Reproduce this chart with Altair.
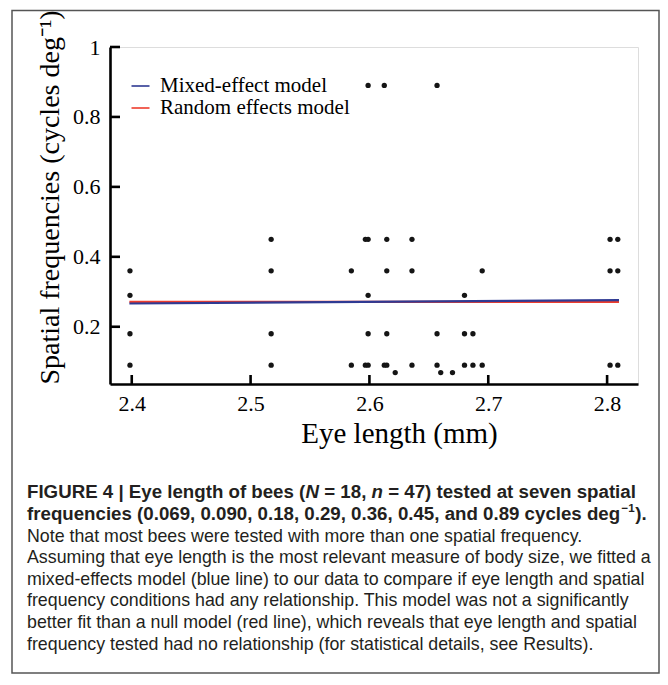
import altair as alt
import pandas as pd

# ---------------- data ----------------
eye_length = [
    2.3985, 2.3985, 2.3985, 2.3985,
    2.5173, 2.5173, 2.5173, 2.5173,
    2.5848, 2.5848,
    2.5966, 2.5966,
    2.5989, 2.5989, 2.5989, 2.5989, 2.5989,
    2.6125, 2.6125,
    2.6146, 2.6146, 2.6146, 2.6146,
    2.6217,
    2.6358, 2.6358, 2.6358,
    2.6569, 2.6569, 2.6569,
    2.6600,
    2.6699,
    2.6800, 2.6800, 2.6800,
    2.6871, 2.6871,
    2.6949, 2.6949,
    2.8025, 2.8025, 2.8025,
    2.8090, 2.8090, 2.8090,
]
spatial_freq = [
    0.36, 0.29, 0.18, 0.09,
    0.45, 0.36, 0.18, 0.09,
    0.36, 0.09,
    0.45, 0.09,
    0.89, 0.45, 0.29, 0.18, 0.09,
    0.89, 0.09,
    0.45, 0.36, 0.18, 0.09,
    0.069,
    0.45, 0.36, 0.09,
    0.89, 0.18, 0.09,
    0.069,
    0.069,
    0.29, 0.18, 0.09,
    0.18, 0.09,
    0.36, 0.09,
    0.45, 0.36, 0.09,
    0.45, 0.36, 0.09,
]

fit_eye = [2.398, 2.81]
mixed_fit = [0.2665, 0.276]
null_fit = [0.271, 0.271]
model_names = ["Mixed-effect model", "Random effects model"]

x_ticks = [2.4, 2.5, 2.6, 2.7, 2.8]
y_ticks = [0.2, 0.4, 0.6, 0.8, 1.0]

caption_bold_1 = ["FIGURE 4 | Eye length of bees (", "N", " = 18, ", "n", " = 47) tested at seven spatial"]
caption_bold_2 = ["frequencies (0.069, 0.090, 0.18, 0.29, 0.36, 0.45, and 0.89 cycles deg", "\u22121", ")."]
caption_lines = [
    "Note that most bees were tested with more than one spatial frequency.",
    "Assuming that eye length is the most relevant measure of body size, we fitted a",
    "mixed-effects model (blue line) to our data to compare if eye length and spatial",
    "frequency conditions had any relationship. This model was not a significantly",
    "better fit than a null model (red line), which reveals that eye length and spatial",
    "frequency tested had no relationship (for statistical details, see Results).",
]

# ---------------- layout ----------------
W, H = 528, 337
SERIF = "Liberation Serif"
SANS = "Liberation Sans"
BLUE, RED = "#2f3a93", "#ee3d2e"
CAP_COLOR = "#231f20"
BOLD_SIZE = 18.7
REG_SIZE = 17.8
CAP_X = -83
CAP_Y0 = 451.3
CAP_DY = 21.6

# Arial/Liberation Sans Bold advance widths (1/1000 em) for caption layout
_bw = {' ': 278, '(': 333, ')': 333, ',': 278, '.': 278, '=': 584, '|': 280, '\u2212': 584,
       'F': 611, 'I': 278, 'G': 778, 'U': 722, 'R': 722, 'E': 667, 'N': 722,
       'a': 556, 'b': 611, 'c': 556, 'd': 611, 'e': 556, 'f': 333, 'g': 611, 'h': 611,
       'i': 278, 'l': 278, 'm': 889, 'n': 611, 'o': 611, 'p': 611, 'q': 611, 'r': 389,
       's': 556, 't': 333, 'u': 611, 'v': 556, 'y': 556}


def bold_width(s, size):
    return sum(_bw.get(c, 556) for c in s) * size / 1000.0


points_df = pd.DataFrame({"eye": eye_length, "freq": spatial_freq})
fit_df = pd.DataFrame({
    "eye": fit_eye + fit_eye,
    "freq": null_fit + mixed_fit,
    "model": [model_names[1]] * 2 + [model_names[0]] * 2,
})

x_scale = alt.Scale(domain=[2.3817, 2.826], nice=False, zero=False)
y_scale = alt.Scale(domain=[0.0363, 1.0], nice=False, zero=False)

x_axis = alt.Axis(
    title="Eye length (mm)", values=x_ticks, format=".1f", ticks=False, grid=False,
    domainColor="black", domainWidth=2.6, labelFont=SERIF, labelFontSize=22,
    labelColor="black", labelPadding=9, titleFont=SERIF, titleFontSize=29,
    titleFontWeight="normal", titleColor="black", titleX=289, titleY=58,
    titleAlign="center", titleBaseline="alphabetic",
)
y_axis = alt.Axis(
    title="Spatial frequencies (cycles deg\u207b\u00b9)", values=y_ticks, format="~g",
    ticks=False, grid=False, domainColor="black", domainWidth=2.6,
    labelFont=SERIF, labelFontSize=22, labelColor="black", labelPadding=10,
    titleFont=SERIF, titleFontSize=28, titleFontWeight="normal", titleColor="black",
    titleX=-52, titleY=150, titleAlign="center", titleBaseline="alphabetic", titleAngle=-90,
)

one = alt.Data(values=[{}])

frame = alt.Chart(one).mark_rect(fill="white", fillOpacity=0, stroke="#555555", strokeWidth=1.5).encode(
    x=alt.value(-98), x2=alt.value(549), y=alt.value(-36.5), y2=alt.value(626)
)

lines = alt.Chart(fit_df).mark_line(strokeWidth=2.2).encode(
    x=alt.X("eye:Q", scale=x_scale, axis=x_axis),
    y=alt.Y("freq:Q", scale=y_scale, axis=y_axis),
    color=alt.Color(
        "model:N",
        scale=alt.Scale(domain=model_names, range=[BLUE, RED]),
        sort=model_names,
        legend=alt.Legend(
            title=None, orient="none", legendX=20, legendY=28.5, symbolType="stroke",
            symbolSize=324, symbolStrokeWidth=1.6, labelFont=SERIF, labelFontSize=21,
            labelColor="black", labelOffset=9, rowPadding=0, padding=0,
            labelLimit=400,
        ),
    ),
    order=alt.Order("model:N", sort="descending"),
    detail="model:N",
)

points = alt.Chart(points_df).mark_circle(size=28, color="#151515", opacity=1).encode(
    x=alt.X("eye:Q", scale=x_scale), y=alt.Y("freq:Q", scale=y_scale)
)

xt = alt.Chart(pd.DataFrame({"eye": x_ticks})).mark_rule(color="black", strokeWidth=2.6).encode(
    x=alt.X("eye:Q", scale=x_scale), y=alt.value(H), y2=alt.value(H - 9)
)
yt = alt.Chart(pd.DataFrame({"freq": y_ticks})).mark_rule(color="black", strokeWidth=2.6).encode(
    y=alt.Y("freq:Q", scale=y_scale), x=alt.value(0), x2=alt.value(10)
)

texts = []


def add_text(s, x, y, size, weight="normal", style="normal"):
    # SVG collapses leading spaces, so shift by their width instead
    stripped = s.lstrip(" ")
    lead = len(s) - len(stripped)
    x = x + lead * 278 * size / 1000.0
    texts.append(
        alt.Chart(one).mark_text(
            text=stripped, font=SANS, fontSize=size, fontWeight=weight, fontStyle=style,
            align="left", baseline="alphabetic", color=CAP_COLOR,
        ).encode(x=alt.value(x), y=alt.value(y))
    )


# bold line 1 (with italic N, n)
cx = CAP_X
for seg in caption_bold_1:
    italic = seg in ("N", "n")
    add_text(seg, cx, CAP_Y0, BOLD_SIZE, "bold", "italic" if italic else "normal")
    cx += bold_width(seg, BOLD_SIZE)

# bold line 2 (with superscript)
cx = CAP_X
y2 = CAP_Y0 + CAP_DY
add_text(caption_bold_2[0], cx, y2, BOLD_SIZE, "bold")
cx += bold_width(caption_bold_2[0], BOLD_SIZE)
sup_size = BOLD_SIZE * 0.62
add_text(caption_bold_2[1], cx + 1, y2 - 7.5, sup_size, "bold")
cx += bold_width(caption_bold_2[1], sup_size) + 1.5
add_text(caption_bold_2[2], cx, y2, BOLD_SIZE, "bold")

for k, s in enumerate(caption_lines):
    add_text(s, CAP_X, CAP_Y0 + CAP_DY * (k + 2), REG_SIZE)

chart = alt.layer(frame, lines, points, xt, yt, *texts).properties(
    width=W, height=H,
    padding={"left": 102, "top": 39, "right": 22, "bottom": 290},
    autosize=alt.AutoSizeParams(type="none"),
).configure_view(stroke=None).configure(background="white")

chart.save("out.html", embed_options={"renderer": "svg", "actions": False})
